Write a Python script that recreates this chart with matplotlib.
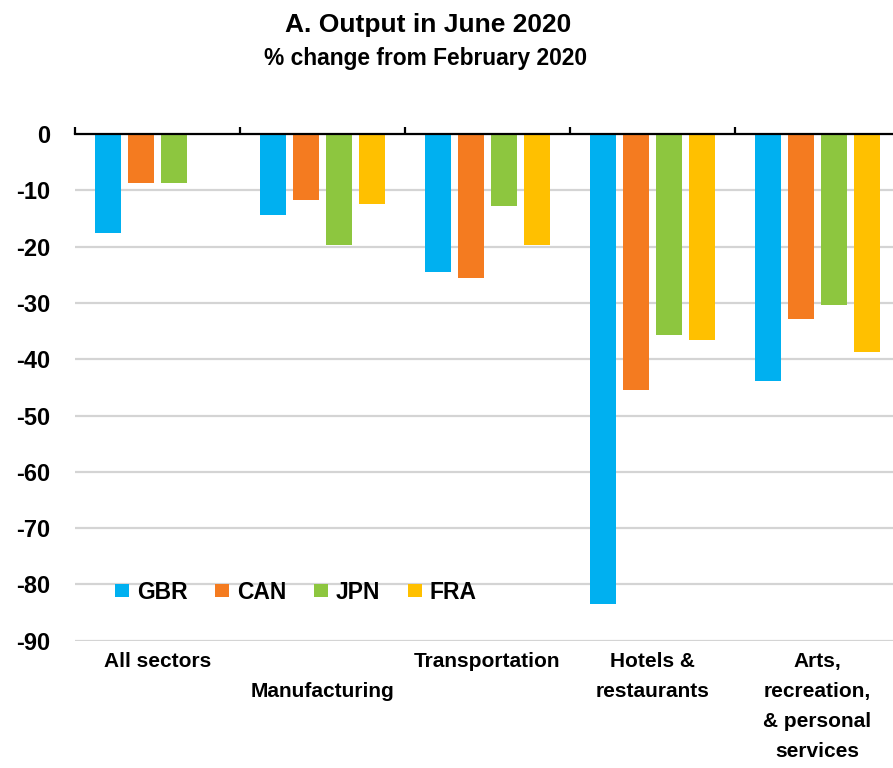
import numpy as np
import matplotlib
matplotlib.use("Agg")
import matplotlib.pyplot as plt
from matplotlib.ticker import FixedLocator

plt.rcParams['font.family'] = ['Liberation Sans', 'DejaVu Sans']
plt.rcParams['font.weight'] = 'bold'

sectors = ["All sectors", "\nManufacturing", "Transportation",
           "Hotels &\nrestaurants", "Arts,\nrecreation,\n& personal\nservices"]
countries = ["GBR", "CAN", "JPN", "FRA"]
gbr = [-17.6, -14.4, -24.5, -83.4, -43.9]
can = [-8.7, -11.8, -25.6, -45.4, -32.9]
jpn = [-8.7, -19.8, -12.8, -35.7, -30.3]
fra = [np.nan, -12.5, -19.8, -36.6, -38.8]
colors = ["#00B0F0", "#F47B20", "#8DC63F", "#FFC000"]
yticks = [0, -10, -20, -30, -40, -50, -60, -70, -80, -90]

fig = plt.figure(figsize=(8.93, 7.68), dpi=100)
ax = fig.add_axes([75 / 893, 1 - 640.7 / 768, 825 / 893, (640.7 - 134) / 768])

x = np.arange(len(sectors))
offsets = [-0.3, -0.1, 0.1, 0.3]
for vals, off, col, name in zip([gbr, can, jpn, fra], offsets, colors, countries):
    ax.bar(x + off, vals, width=0.16, color=col, label=name, zorder=3)

ax.set_xlim(-0.5, 4.5)
ax.set_ylim(-90, 0)
ax.set_yticks(yticks)
ax.set_yticklabels([str(v) for v in yticks], fontsize=17)
ax.grid(axis='y', color='#d4d4d4', lw=1.6, zorder=0)
ax.set_axisbelow(True)

for s in ['left', 'right', 'bottom']:
    ax.spines[s].set_visible(False)
ax.spines['top'].set_linewidth(1.6)
ax.spines['top'].set_zorder(4)

ax.set_xticks(x)
ax.set_xticklabels(sectors, fontsize=15, fontweight='bold', linespacing=1.74, va='top')
ax.xaxis.set_minor_locator(FixedLocator([-0.5, 0.5, 1.5, 2.5, 3.5]))
ax.tick_params(axis='x', which='major', bottom=False, top=False, labelbottom=True, pad=4.5)
ax.tick_params(axis='x', which='minor', bottom=False, top=True, direction='out',
               length=5, width=1.6)
ax.tick_params(axis='y', length=0, pad=18)

ax.legend(loc='center left', bbox_to_anchor=(0.0485, 0.096), ncol=4, frameon=False,
          fontsize=16.5, handlelength=0.61, handleheight=0.5, handletextpad=0.35,
          columnspacing=1.2, borderpad=0, borderaxespad=0)

fig.text(428 / 893, 1 - 25 / 768, "A. Output in June 2020", fontsize=19,
         fontweight='bold', ha='center', va='center')
fig.text(425 / 893, 1 - 58 / 768, "% change from February 2020", fontsize=16.4,
         fontweight='bold', ha='center', va='center')

fig.savefig("out.png", dpi=100)
